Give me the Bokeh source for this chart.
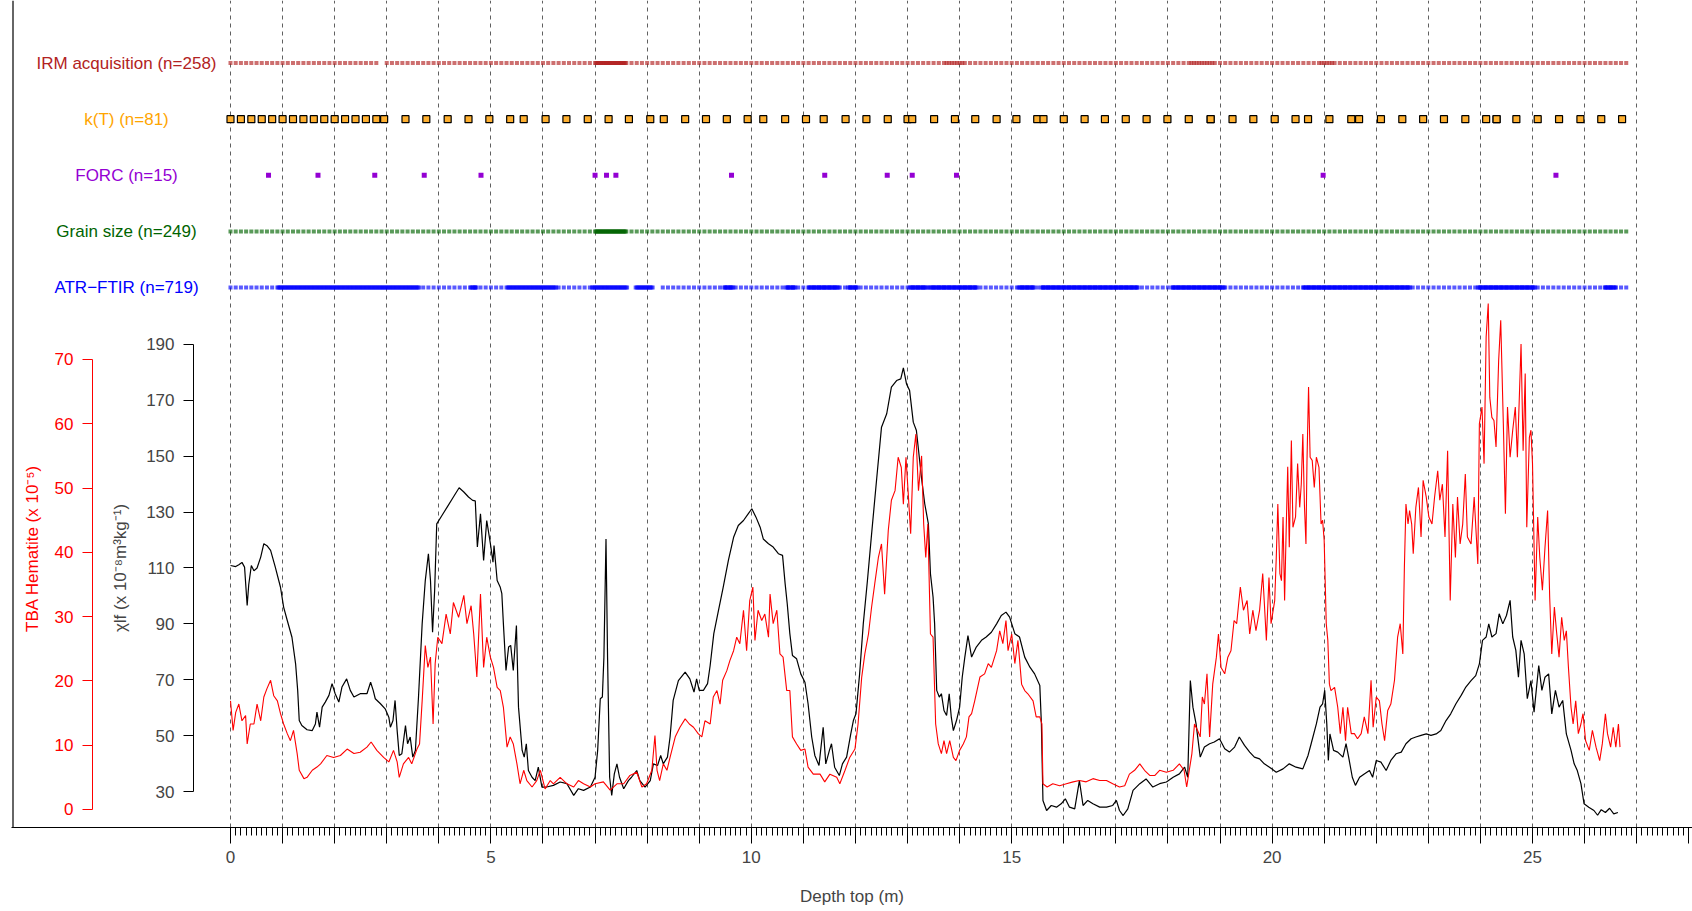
import numpy as np
from bokeh.plotting import figure
from bokeh.models import Range1d, LinearAxis, FixedTicker, Grid, Span, ColumnDataSource
from bokeh.core.properties import value
from bokeh.embed import file_html
from bokeh.resources import INLINE

# ---------------- data ----------------
chi_depth = [0.00,0.10,0.16,0.22,0.27,0.32,0.35,0.40,0.45,0.51,0.58,0.64,0.70,0.77,0.86,0.96,1.02,1.09,1.18,1.25,
 1.29,1.32,1.37,1.47,1.57,1.63,1.66,1.71,1.76,1.82,1.89,1.95,2.01,2.08,2.14,2.23,2.30,2.37,2.49,2.62,
 2.69,2.74,2.78,2.88,2.97,3.04,3.07,3.12,3.16,3.20,3.24,3.29,3.36,3.40,3.45,3.50,3.55,3.61,3.68,3.74,
 3.80,3.84,3.88,3.92,3.96,4.06,4.16,4.28,4.39,4.48,4.57,4.65,4.70,4.74,4.80,4.86,4.92,4.99,5.04,5.06,
 5.12,5.18,5.21,5.24,5.29,5.34,5.38,5.43,5.49,5.53,5.60,5.64,5.68,5.72,5.79,5.85,5.91,5.98,6.07,6.20,
 6.33,6.46,6.59,6.68,6.78,6.91,7.00,7.05,7.10,7.14,7.17,7.21,7.24,7.28,7.32,7.37,7.42,7.47,7.55,7.64,
 7.70,7.80,7.86,7.96,8.06,8.12,8.20,8.26,8.31,8.39,8.44,8.50,8.60,8.73,8.82,8.90,8.95,9.00,9.08,9.16,
 9.21,9.28,9.37,9.46,9.56,9.66,9.75,9.85,9.94,10.01,10.09,10.17,10.23,10.33,10.42,10.52,10.60,10.65,10.69,10.74,
 10.79,10.87,10.95,11.03,11.09,11.16,11.22,11.30,11.38,11.43,11.50,11.54,11.60,11.69,11.75,11.83,11.91,11.96,12.01,12.08,
 12.15,12.23,12.31,12.41,12.50,12.60,12.69,12.79,12.87,12.92,12.98,13.04,13.11,13.17,13.27,13.33,13.40,13.44,13.49,13.52,
 13.56,13.61,13.65,13.70,13.75,13.80,13.84,13.88,13.94,14.00,14.05,14.10,14.16,14.23,14.32,14.42,14.51,14.61,14.71,14.80,
 14.89,14.96,15.06,15.15,15.25,15.35,15.44,15.54,15.57,15.60,15.67,15.76,15.86,15.95,16.03,16.11,16.21,16.30,16.37,16.46,
 16.56,16.69,16.82,16.94,17.01,17.07,17.14,17.23,17.33,17.46,17.58,17.71,17.84,17.97,18.10,18.22,18.32,18.38,18.43,18.48,
 18.54,18.62,18.70,18.80,18.89,18.99,19.09,19.18,19.28,19.37,19.47,19.57,19.66,19.76,19.85,19.95,20.08,20.21,20.33,20.46,
 20.59,20.69,20.75,20.85,20.92,20.97,21.01,21.05,21.08,21.11,21.18,21.26,21.36,21.42,21.47,21.54,21.60,21.68,21.77,21.87,
 21.93,22.00,22.09,22.19,22.28,22.38,22.48,22.57,22.67,22.76,22.86,22.96,23.05,23.15,23.24,23.34,23.43,23.53,23.63,23.72,
 23.82,23.91,23.98,24.04,24.11,24.16,24.22,24.30,24.36,24.43,24.50,24.57,24.62,24.68,24.73,24.78,24.84,24.90,24.97,25.03,
 25.12,25.18,25.24,25.31,25.37,25.44,25.51,25.58,25.65,25.74,25.80,25.86,25.93,25.99,26.08,26.18,26.25,26.32,26.40,26.48,
 26.56,26.64]
chi_value = [110.9,110.5,111.2,112.0,110.3,96.6,104.0,110.9,109.0,110.0,113.9,118.7,118.0,116.3,110.3,103.1,96.0,91.2,85.2,75.7,
 66.2,55.4,53.6,52.1,51.8,54.2,58.4,53.0,60.2,62.0,64.4,68.6,65.0,62.0,67.4,70.3,66.2,63.8,65.0,65.0,
 69.1,66.2,63.2,61.4,59.6,56.6,53.0,55.4,62.6,51.8,42.9,43.5,53.6,47.1,49.5,42.3,44.7,63.8,90.0,105.5,
 115.1,105.5,87.0,102.0,125.8,128.8,131.8,135.4,138.7,137.2,135.4,134.2,134.0,117.5,129.4,112.7,127.0,118.7,112.1,118.0,
 105.5,103.1,100.8,90.0,73.3,81.7,82.3,73.3,89.4,60.2,44.7,42.3,47.1,37.5,35.1,33.9,38.7,31.6,31.6,32.2,
 33.4,32.8,28.6,31.0,30.4,31.6,35.1,44.7,63.2,63.8,78.1,120.4,78.1,35.1,28.6,36.3,39.9,35.1,31.0,33.9,
 35.1,37.5,33.9,31.6,33.9,39.9,39.3,42.9,39.9,42.3,49.5,62.6,69.7,72.7,70.3,65.6,70.3,66.2,66.2,68.6,
 75.1,86.5,94.8,103.1,112.7,121.0,125.2,127.0,129.4,131.2,128.2,124.6,120.4,118.7,117.5,115.1,114.5,104.3,97.2,86.5,
 78.7,77.5,72.1,69.1,61.4,49.5,42.9,39.3,53.0,39.9,44.7,47.1,38.7,35.7,39.9,42.3,50.6,55.4,57.8,72.1,
 90.0,105.5,122.2,142.5,160.4,165.2,174.7,177.1,177.7,181.6,175.9,173.5,162.2,159.2,142.0,133.0,125.8,107.9,99.6,90.0,
 66.2,63.8,65.0,59.0,57.2,65.0,56.6,51.8,55.4,60.2,70.9,78.1,85.8,78.1,81.7,84.1,85.3,87.0,90.0,93.0,
 94.2,92.4,86.5,85.3,78.1,74.5,72.1,67.9,54.2,26.8,23.2,25.0,24.4,25.6,27.4,24.4,23.8,33.9,25.0,26.8,
 25.6,24.4,24.4,25.0,26.8,23.2,21.4,23.8,30.4,32.8,34.5,31.6,32.8,33.4,35.1,36.3,38.7,35.1,69.7,60.2,
 54.2,42.3,45.9,47.1,47.7,48.9,45.3,44.1,45.9,49.5,46.5,44.1,42.3,41.7,39.9,38.7,36.9,38.1,39.9,38.7,
 38.1,42.9,47.1,54.2,60.2,61.4,66.2,54.2,41.1,50.6,44.7,44.1,42.3,47.1,42.3,35.1,32.2,35.1,36.3,37.5,
 35.1,41.1,40.5,37.5,41.1,43.5,44.1,47.1,48.9,49.5,50.1,50.6,50.1,50.6,51.8,55.4,57.8,61.4,64.4,67.4,
 69.7,71.5,75.7,84.1,85.3,90.0,85.3,86.5,93.6,90.0,93.0,98.4,85.3,80.5,70.9,84.1,79.3,63.2,69.7,58.4,
 75.1,66.2,70.9,72.1,57.8,66.2,60.2,62.6,50.6,44.7,39.9,37.5,32.8,25.6,24.4,23.2,21.5,23.5,22.5,24.0,
 22.0,22.5]

tba_depth = [0.00,0.05,0.10,0.16,0.22,0.29,0.32,0.38,0.45,0.51,0.58,0.64,0.70,0.77,0.83,0.90,0.96,1.02,1.09,1.15,
 1.21,1.28,1.32,1.41,1.47,1.57,1.66,1.73,1.85,1.98,2.11,2.24,2.37,2.49,2.62,2.70,2.81,2.94,3.04,3.13,
 3.20,3.24,3.32,3.42,3.48,3.58,3.63,3.68,3.74,3.79,3.84,3.89,3.93,3.98,4.06,4.14,4.22,4.28,4.38,4.48,
 4.54,4.62,4.67,4.73,4.80,4.86,4.92,4.99,5.05,5.12,5.18,5.24,5.31,5.37,5.43,5.50,5.56,5.63,5.69,5.79,
 5.88,5.95,6.04,6.14,6.20,6.33,6.46,6.59,6.68,6.78,6.91,7.00,7.16,7.29,7.42,7.55,7.67,7.80,7.90,7.99,
 8.09,8.15,8.19,8.24,8.31,8.38,8.44,8.54,8.63,8.73,8.81,8.89,8.98,9.05,9.11,9.21,9.27,9.34,9.40,9.45,
 9.53,9.59,9.66,9.72,9.78,9.85,9.91,9.97,10.03,10.07,10.13,10.20,10.26,10.33,10.36,10.42,10.49,10.55,10.61,10.68,
 10.74,10.79,10.87,10.95,11.03,11.09,11.19,11.32,11.41,11.51,11.64,11.70,11.80,11.89,11.99,12.05,12.12,12.18,12.25,12.31,
 12.37,12.44,12.50,12.56,12.63,12.69,12.76,12.82,12.88,12.92,12.97,13.01,13.06,13.11,13.16,13.21,13.27,13.31,13.35,13.39,
 13.44,13.49,13.54,13.59,13.65,13.70,13.75,13.81,13.88,13.93,14.00,14.07,14.13,14.18,14.23,14.29,14.39,14.48,14.55,14.61,
 14.71,14.77,14.83,14.89,14.93,15.00,15.06,15.12,15.19,15.25,15.31,15.41,15.47,15.54,15.58,15.60,15.68,15.79,15.92,16.05,
 16.18,16.30,16.43,16.56,16.69,16.82,16.94,17.07,17.17,17.26,17.36,17.46,17.55,17.65,17.75,17.84,17.97,18.10,18.22,18.31,
 18.36,18.41,18.46,18.51,18.57,18.62,18.66,18.70,18.75,18.80,18.86,18.93,18.97,19.02,19.09,19.15,19.21,19.27,19.32,19.39,
 19.45,19.52,19.57,19.63,19.69,19.76,19.82,19.89,19.94,19.98,20.05,20.08,20.11,20.15,20.18,20.21,20.24,20.27,20.30,20.33,
 20.37,20.40,20.45,20.49,20.53,20.56,20.59,20.62,20.65,20.67,20.70,20.73,20.77,20.81,20.85,20.90,20.94,20.97,21.00,21.04,
 21.07,21.10,21.13,21.20,21.26,21.31,21.36,21.41,21.45,21.52,21.58,21.64,21.71,21.77,21.84,21.90,21.94,22.00,22.06,22.11,
 22.16,22.22,22.28,22.35,22.41,22.46,22.51,22.54,22.57,22.61,22.64,22.68,22.71,22.76,22.81,22.86,22.90,22.96,23.01,23.07,
 23.12,23.18,23.22,23.27,23.32,23.37,23.42,23.47,23.52,23.56,23.61,23.66,23.71,23.75,23.82,23.88,23.95,23.98,24.03,24.07,
 24.11,24.15,24.18,24.22,24.26,24.30,24.35,24.39,24.44,24.48,24.52,24.57,24.62,24.67,24.71,24.78,24.82,24.86,24.89,24.94,
 24.97,25.00,25.05,25.10,25.14,25.19,25.24,25.29,25.33,25.37,25.42,25.46,25.51,25.56,25.61,25.65,25.69,25.74,25.78,25.83,
 25.88,25.93,25.97,26.02,26.09,26.15,26.22,26.29,26.34,26.40,26.44,26.50,26.55,26.60,26.65,26.68]
tba_value = [16.9,12.3,15.1,16.4,13.8,14.6,10.2,13.3,13.3,16.4,13.8,17.5,18.8,20.1,17.7,16.9,14.9,13.3,11.8,10.7,
 12.3,8.7,6.1,4.8,5.0,6.1,6.6,7.1,8.4,8.1,8.4,9.4,8.7,8.9,9.7,10.5,9.2,8.1,7.4,9.2,
 7.4,5.0,7.1,8.1,7.1,9.4,10.2,16.9,25.5,22.1,23.7,13.3,22.7,26.8,25.8,30.4,27.3,32.2,29.9,33.3,
 28.9,31.7,27.3,20.6,33.5,22.1,26.8,23.7,22.1,19.0,18.5,15.9,9.7,11.3,10.2,7.1,4.0,6.1,4.5,3.5,
 4.5,6.1,3.2,4.5,4.0,5.0,4.0,3.5,4.5,4.0,3.5,4.0,4.3,3.0,4.0,4.0,5.3,5.8,3.5,4.0,
 6.1,11.5,6.1,4.5,7.1,6.1,8.1,11.3,12.8,14.1,13.3,12.8,11.8,11.3,13.8,13.3,17.5,18.5,16.4,20.1,
 21.6,23.2,24.7,26.8,25.8,31.0,24.7,32.5,34.6,26.3,31.0,29.4,30.4,26.8,33.5,28.9,31.0,24.2,23.7,18.5,
 18.5,11.3,10.2,9.2,9.4,6.6,5.5,5.5,4.3,5.5,5.0,4.0,6.1,8.1,9.4,13.3,20.6,24.2,27.3,31.5,
 35.1,39.2,41.3,33.5,43.4,48.1,49.6,54.8,53.2,47.5,54.8,49.6,42.9,54.8,58.4,49.6,55.0,44.4,39.2,44.4,
 27.3,26.8,13.3,10.2,8.7,10.7,8.7,10.7,8.1,7.6,9.2,10.2,11.3,14.4,14.9,16.9,20.6,21.1,22.7,22.1,
 24.7,27.8,25.8,29.4,24.7,27.3,22.7,26.3,19.5,18.5,18.0,16.9,14.4,14.4,13.3,4.0,3.5,4.0,3.7,4.0,
 4.3,4.5,4.3,4.8,4.5,4.5,4.0,3.5,3.7,5.5,6.1,7.1,6.1,5.3,5.3,6.1,5.8,6.1,7.1,6.1,
 3.5,6.1,8.7,13.3,12.3,11.3,17.5,16.4,21.1,11.3,19.5,23.7,27.3,22.1,21.1,23.7,24.7,29.4,28.9,34.6,
 31.0,32.5,27.3,31.0,27.8,31.0,36.7,26.3,36.1,28.9,32.5,39.2,47.5,36.7,35.6,45.5,32.5,43.4,53.3,40.8,
 57.4,43.9,45.5,53.8,47.0,50.6,58.4,47.5,41.3,54.3,65.7,54.8,54.3,50.1,54.8,53.2,44.4,45.0,41.8,28.9,
 26.3,19.5,18.5,19.0,15.9,11.8,15.9,10.7,15.9,11.8,11.8,11.0,11.8,14.4,11.8,20.1,12.8,17.5,16.9,13.3,
 10.7,15.4,16.4,20.1,26.8,28.9,24.2,37.7,47.5,44.4,46.5,44.4,39.8,47.0,50.1,42.4,51.2,48.6,45.5,44.4,
 48.6,52.7,48.1,50.6,42.4,55.8,32.5,47.5,39.2,48.6,41.3,44.4,52.2,42.4,41.3,48.6,38.2,60.0,62.6,53.8,
 73.5,78.7,64.1,61.0,60.5,56.4,69.8,76.1,60.0,46.0,62.6,54.8,59.0,62.6,54.8,72.4,55.8,67.8,43.9,57.9,
 59.0,53.8,32.5,45.5,39.2,34.1,40.8,46.5,33.0,24.2,31.5,27.8,23.7,29.9,26.3,27.8,22.1,15.9,13.3,16.9,
 11.8,13.3,14.9,10.7,9.2,12.3,9.7,7.6,10.2,14.9,11.8,9.7,12.8,9.7,13.3,9.7]

# sampling runs (start, end, step)
irm_runs = [(0.0, 2.8, 0.1), (3.0, 6.9, 0.1), (7.0, 7.6, 0.02), (7.7, 13.7, 0.1), (13.75, 14.05, 0.05),
            (14.1, 18.4, 0.1), (18.45, 18.85, 0.05), (18.9, 20.9, 0.1), (20.95, 21.15, 0.05), (21.2, 26.8, 0.1)]
kt_depth = [0.0,0.2,0.4,0.6,0.8,1.0,1.2,1.4,1.6,1.8,2.0,2.2,2.4,2.6,2.8,2.95,3.36,3.76,4.17,4.57,
            4.97,5.37,5.63,6.05,6.45,6.86,7.26,7.65,8.06,8.32,8.73,9.13,9.53,9.93,10.23,10.65,11.05,11.39,11.81,12.21,
            12.62,13.0,13.09,13.51,13.91,14.3,14.71,15.09,15.49,15.61,16.0,16.4,16.79,17.19,17.59,17.99,18.4,18.82,18.82,19.24,
            19.64,20.05,20.45,20.69,21.1,21.52,21.67,22.09,22.5,22.9,23.3,23.71,24.11,24.31,24.31,24.69,25.1,25.51,25.92,26.32,26.72]
forc_depth = [0.73, 1.68, 2.77, 3.72, 4.81, 7.0, 7.22, 7.4, 9.62, 11.41, 12.61, 13.09, 13.94, 20.98, 25.45]
grain_runs = [(0.0, 6.9, 0.1), (7.0, 7.6, 0.02), (7.7, 26.8, 0.1)]
atr_sparse_runs = [(0.0, 0.9, 0.1), (3.7, 5.2, 0.1), (6.3, 6.9, 0.1), (8.3, 26.8, 0.1)]
atr_dense_runs = [(0.92, 3.62, 0.025), (4.62, 4.73, 0.025), (5.3, 6.25, 0.025), (6.94, 7.61, 0.025),
                  (7.78, 8.1, 0.025), (9.48, 9.65, 0.025), (10.67, 10.84, 0.025), (11.1, 11.68, 0.025),
                  (11.86, 12.03, 0.025), (13.04, 13.37, 0.025), (13.43, 14.32, 0.025), (15.13, 15.42, 0.025),
                  (15.57, 17.42, 0.025), (18.08, 19.08, 0.025), (20.6, 22.65, 0.025), (23.95, 25.05, 0.025),
                  (26.39, 26.6, 0.025)]

row_labels = ["IRM acquisition (n=258)", "k(T) (n=81)", "FORC (n=15)", "Grain size (n=249)", "ATR\u2212FTIR (n=719)"]
row_colors = ["#B22222", "#FFA500", "#9400D3", "#006400", "#0000FF"]
row_index = [5, 4, 3, 2, 1]

chi_ticks = [30, 50, 70, 90, 110, 130, 150, 170, 190]
tba_ticks = [0, 10, 20, 30, 40, 50, 60, 70]
depth_major = list(range(0, 29))
depth_minor = [round(i * 0.1, 1) for i in range(0, 281)]


def expand(runs):
    out = []
    for a, b, s in runs:
        out.extend(np.round(np.arange(a, b + s / 2, s), 3).tolist())
    return sorted(out)


irm_depth = expand(irm_runs)
grain_depth = expand(grain_runs)
atr_depth = expand(atr_sparse_runs + atr_dense_runs)

# ---------------- figure ----------------
FONT = "Liberation Sans"
FS = "17px"
PX = 52.08          # px per metre (layout)
X0 = 230            # screen x of depth 0
W, H = 1692, 911
FRAME_LEFT, FRAME_BOTTOM = 11, 827

p = figure(width=W, height=H, output_backend="svg", toolbar_location=None, title=None,
           x_range=Range1d((FRAME_LEFT - X0) / PX, (W - X0) / PX),
           y_range=Range1d(17.115, 313.12),
           x_axis_type=None, y_axis_type=None,
           min_border_left=FRAME_LEFT, min_border_right=0, min_border_top=0,
           min_border_bottom=H - FRAME_BOTTOM,
           outline_line_color=None, background_fill_color="white", border_fill_color="white")
p.extra_y_ranges = {"tba": Range1d(-2.8, 125.84), "rows": Range1d(-8.626, 6.116)}

grid = Grid(dimension=0, ticker=FixedTicker(ticks=list(range(0, 28))),
            grid_line_color="#606060", grid_line_dash="4 4", grid_line_width=1)
p.add_layout(grid)

p.add_layout(Span(location=(12.5 - X0) / PX, dimension="height", line_color="#333333", line_width=1.5))

# x axis
xaxis = LinearAxis(ticker=FixedTicker(ticks=depth_major, minor_ticks=depth_minor),
                   major_label_overrides={i: "" for i in depth_major if i % 5},
                   major_tick_out=16, major_tick_in=0, minor_tick_out=8, minor_tick_in=0,
                   major_label_standoff=7, axis_label="Depth top (m)", axis_label_standoff=21,
                   axis_label_text_font=FONT, axis_label_text_font_style="normal",
                   axis_label_text_font_size=FS, major_label_text_font=FONT,
                   major_label_text_font_size=FS, axis_line_color="black",
                   major_tick_line_color="black", minor_tick_line_color="black")
p.add_layout(xaxis, "below")

chi_axis = LinearAxis(fixed_location=(193 - X0) / PX, ticker=FixedTicker(ticks=chi_ticks), bounds=(30, 190),
                      major_tick_out=10, major_tick_in=0, minor_tick_out=0, minor_tick_in=0,
                      major_label_standoff=9, axis_label="\u03c7lf (x 10\u207b\u2078m\u00b3kg\u207b\u00b9)",
                      axis_label_standoff=13, axis_label_text_font=FONT, axis_label_text_font_style="normal",
                      axis_label_text_font_size=FS, major_label_text_font=FONT,
                      major_label_text_font_size=FS)
p.add_layout(chi_axis, "left")

tba_axis = LinearAxis(y_range_name="tba", fixed_location=(92 - X0) / PX, ticker=FixedTicker(ticks=tba_ticks),
                      bounds=(0, 70), major_tick_out=10, major_tick_in=0, minor_tick_out=0, minor_tick_in=0,
                      major_label_standoff=9, major_label_text_font=FONT,
                      major_label_text_font_size=FS, axis_line_color="red", major_tick_line_color="red",
                      major_label_text_color="red")
p.add_layout(tba_axis, "left")

# TBA axis title, centred like the reference (on the plot region, not on the axis bounds)
p.text(x=[(32 - X0) / PX], y=[40.6], text=["TBA Hematite (x 10\u207b\u2075)"], angle=np.pi / 2,
       y_range_name="tba", text_color="red", text_font=value(FONT), text_font_size=FS,
       text_align="center", text_baseline="middle")

# curves
p.line(chi_depth, chi_value, line_color="black", line_width=1.2)
p.line(tba_depth, tba_value, line_color="red", line_width=1.1, y_range_name="tba")

# top panel
p.scatter(irm_depth, [5] * len(irm_depth), marker="square", size=4, fill_color="#B22222", fill_alpha=0.65,
          line_color=None, y_range_name="rows")
p.scatter(kt_depth, [4] * len(kt_depth), marker="square", size=7, fill_color="#FFB030", line_color="black",
          line_width=1.2, y_range_name="rows")
p.scatter(forc_depth, [3] * len(forc_depth), marker="square", size=5, fill_color="#9400D3", line_color=None,
          y_range_name="rows")
p.scatter(grain_depth, [2] * len(grain_depth), marker="square", size=4, fill_color="#006400", fill_alpha=0.65,
          line_color=None, y_range_name="rows")
p.scatter(atr_depth, [1] * len(atr_depth), marker="square", size=4, fill_color="#0000FF", fill_alpha=0.65,
          line_color=None, y_range_name="rows")

lab_src = ColumnDataSource(dict(x=[(126 - X0) / PX] * 5, y=row_index, text=row_labels, color=row_colors))
p.text(x="x", y="y", text="text", text_color="color", source=lab_src, y_range_name="rows",
       text_font=value(FONT), text_font_size=FS, text_align="center", text_baseline="middle")

open("out.html", "w").write(file_html(p, INLINE))
